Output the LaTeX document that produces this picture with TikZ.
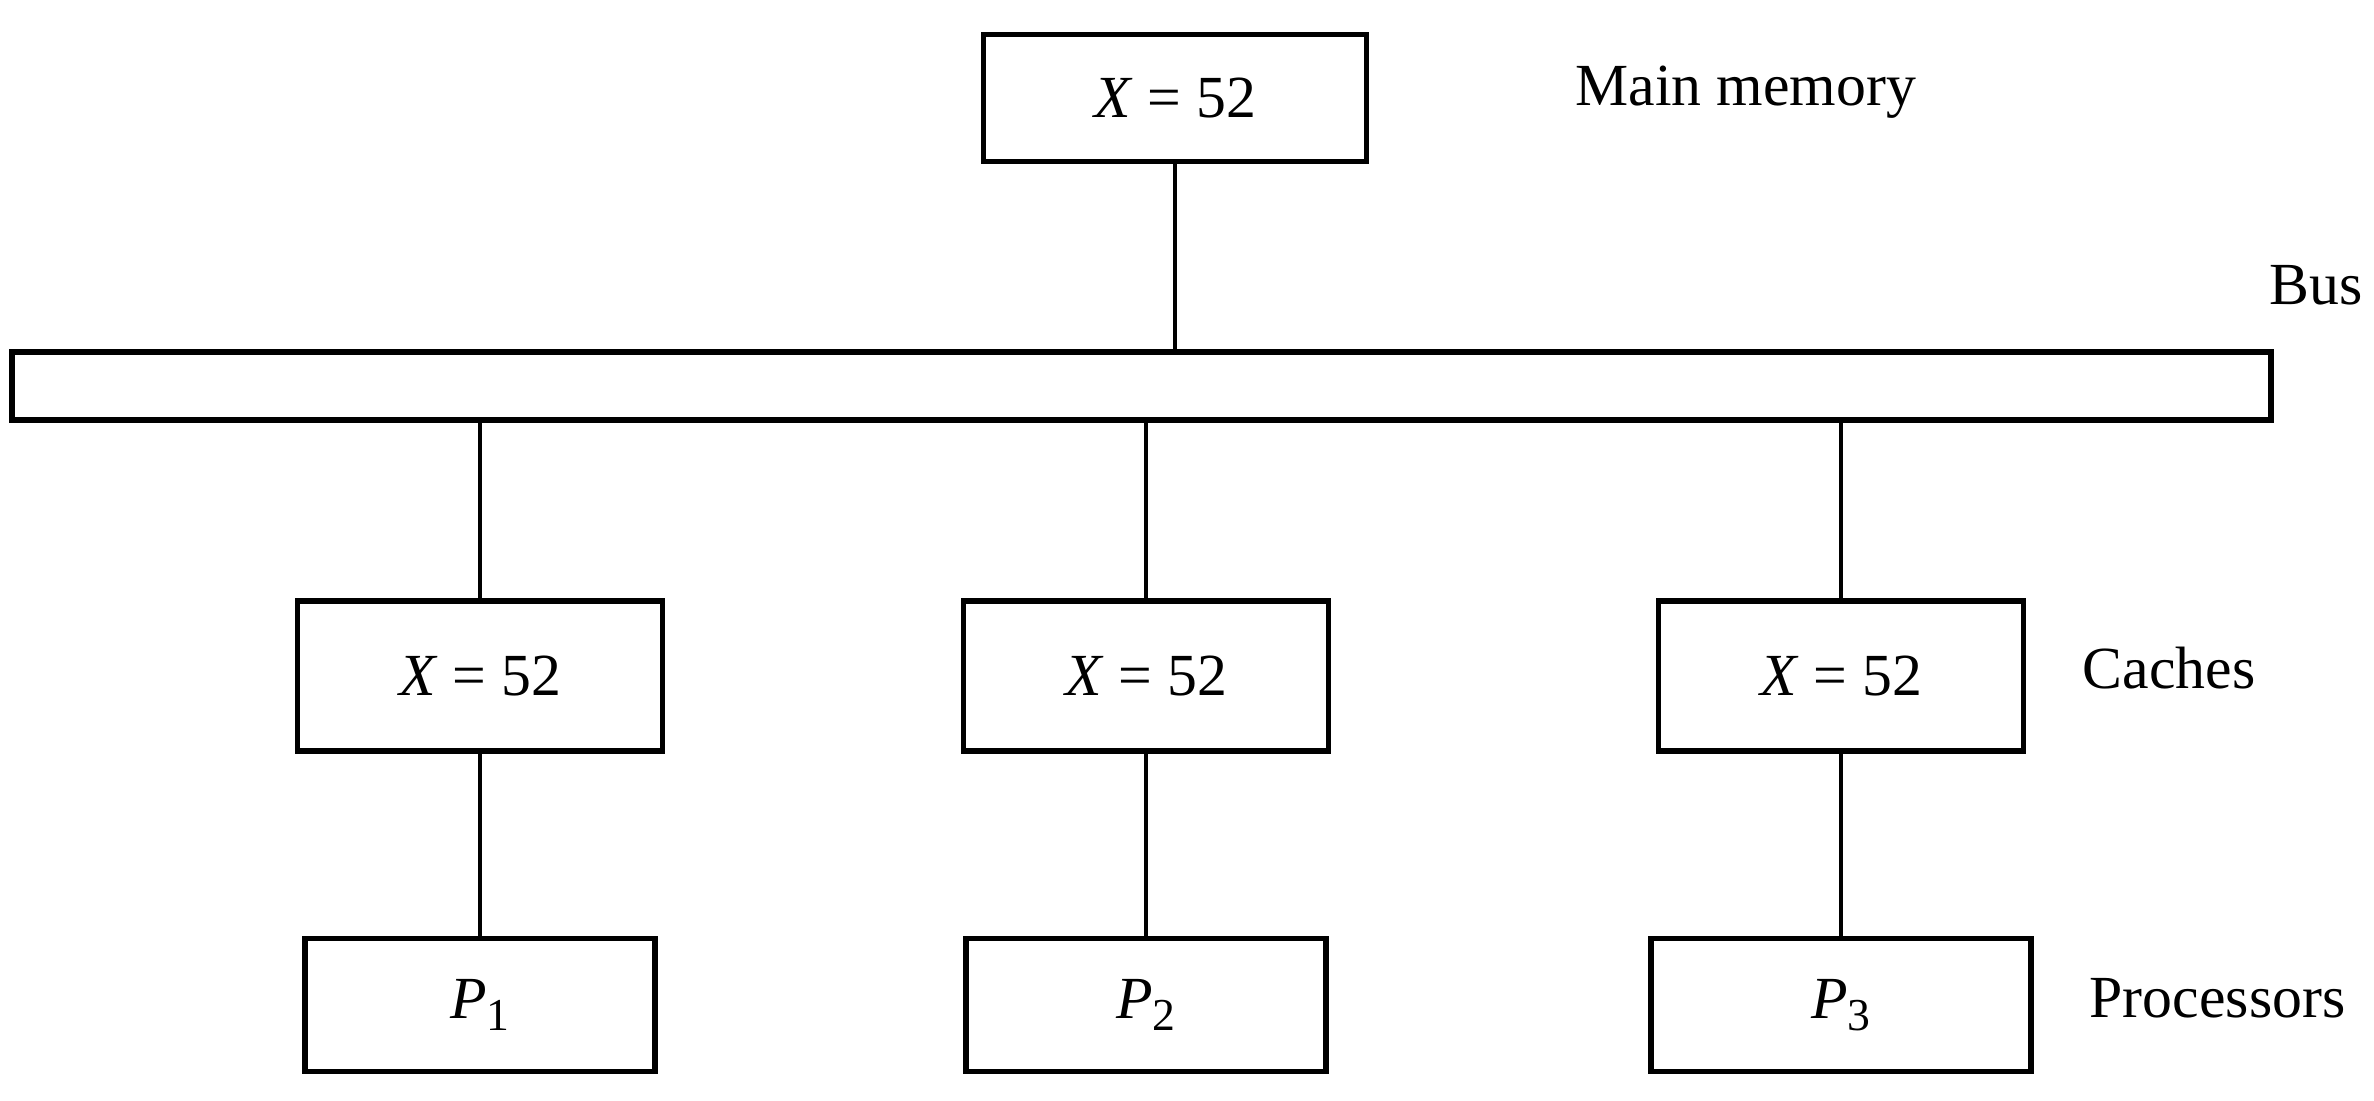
\documentclass[tikz,border=0pt]{standalone}
\usepackage{fontspec}
\setmainfont{Liberation Serif}
\usepackage{tikz}
\usetikzlibrary{positioning, calc}

\begin{document}
\begin{tikzpicture}[
  box/.style={draw, line width=1.6pt, minimum width=3.65cm, minimum height=1.5cm, inner sep=0pt, font=\fontsize{17}{20}\selectfont},
  procbox/.style={box, minimum height=1.33cm},
  lbl/.style={anchor=west, inner sep=0pt, font=\fontsize{17}{20}\selectfont},
  wire/.style={line width=1pt}
]
  \useasboundingbox (0,0) rectangle (23.74,11.0);

  \node[box, minimum width=3.83cm, minimum height=1.27cm] (mem) at (11.75, 10.02) {\textit{X} = 52};
  \node[lbl] (memlbl) at (15.75, 10.08) {Main memory};

  \node[draw, line width=1.6pt, minimum width=22.59cm, minimum height=0.68cm, inner sep=0pt] (bus) at (11.415, 7.14) {};
  \node[lbl, anchor=center] (buslbl) at (23.16, 8.15) {Bus};

  \node[box] (c1) at (4.80, 4.24) {\textit{X} = 52};
  \node[box] (c2) at (11.46, 4.24) {\textit{X} = 52};
  \node[box] (c3) at (18.41, 4.24) {\textit{X} = 52};
  \node[lbl] (clbl) at (20.82, 4.32) {Caches};

  \node[procbox, minimum width=3.5cm] (p1) at (4.80, 0.95) {\textit{P}\raisebox{-0.45ex}{\fontsize{13}{13}\selectfont 1}};
  \node[procbox, minimum width=3.6cm] (p2) at (11.46, 0.95) {\textit{P}\raisebox{-0.45ex}{\fontsize{13}{13}\selectfont 2}};
  \node[procbox, minimum width=3.8cm] (p3) at (18.41, 0.95) {\textit{P}\raisebox{-0.45ex}{\fontsize{13}{13}\selectfont 3}};
  \node[lbl] (plbl) at (20.89, 1.02) {Processors};

  \draw[wire] (mem.south) -- (mem.south |- bus.north);
  \draw[wire] (bus.south -| c1.north) -- (c1.north);
  \draw[wire] (bus.south -| c2.north) -- (c2.north);
  \draw[wire] (bus.south -| c3.north) -- (c3.north);
  \draw[wire] (c1.south) -- (p1.north);
  \draw[wire] (c2.south) -- (p2.north);
  \draw[wire] (c3.south) -- (p3.north);
\end{tikzpicture}
\end{document}
